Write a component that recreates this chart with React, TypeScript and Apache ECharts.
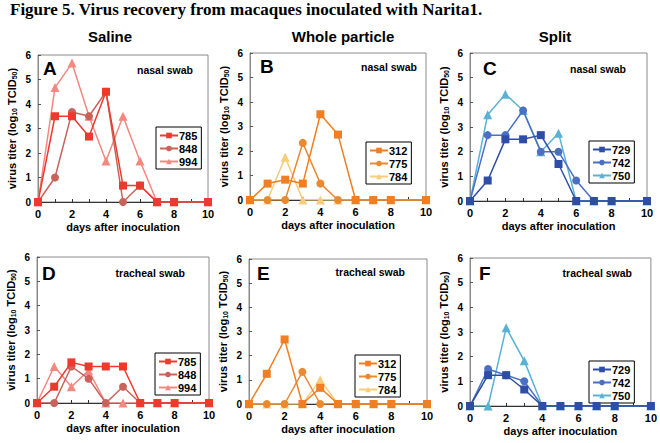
import React, { useEffect, useRef } from "react";
import * as echarts from "echarts";

const days = [0, 1, 2, 3, 4, 5, 6, 7, 8, 10];
const xTicks = [0, 2, 4, 6, 8, 10];
const yTicks = [0, 1, 2, 3, 4, 5, 6];

const salineIds = ["785", "848", "994"];
const wholeIds = ["312", "775", "784"];
const splitIds = ["729", "742", "750"];

// nasal swab
const nasalSaline785 = [0, 3.5, 3.5, 2.67, 4.5, 0.67, 0.67, 0, 0, 0];
const nasalSaline848 = [0, 1.0, 3.67, 3.5, 4.5, 0, 0.67, 0, 0, 0];
const nasalSaline994 = [0, 4.67, 5.67, 3.5, 1.67, 3.5, 1.67, 0, 0, 0];
const nasalWhole312 = [0, 0.67, 0.83, 0.67, 3.5, 2.67, 0, 0, 0, 0];
const nasalWhole775 = [0, 0, 0, 2.33, 0.67, 0, 0, 0, 0, 0];
const nasalWhole784 = [0, 0, 1.75, 0, 0, 0, 0, 0, 0, 0];
const nasalSplit729 = [0, 0.83, 2.5, 2.5, 2.67, 1.5, 0, 0, 0, 0];
const nasalSplit742 = [0, 2.67, 2.67, 3.67, 2.0, 2.0, 0.83, 0, 0, 0];
const nasalSplit750 = [0, 3.5, 4.33, 3.67, 2.0, 2.75, 0, 0, 0, 0];
// tracheal swab
const trachSaline785 = [0, 0.67, 1.67, 1.5, 1.5, 1.5, 0, 0, 0, 0];
const trachSaline848 = [0, 0, 1.5, 1.0, 0, 0.67, 0, 0, 0, 0];
const trachSaline994 = [0, 1.5, 0.67, 1.33, 0, 0, 0, 0, 0, 0];
const trachWhole312 = [0, 1.25, 2.67, 0, 0.67, 0, 0, 0, 0, 0];
const trachWhole775 = [0, 0, 0, 1.33, 0, 0, 0, 0, 0, 0];
const trachWhole784 = [0, 0, 0, 0, 1.0, 0, 0, 0, 0, 0];
const trachSplit729 = [0, 1.25, 1.25, 0.67, 0, 0, 0, 0, 0, 0];
const trachSplit742 = [0, 1.5, 1.25, 1.0, 0, 0, 0, 0, 0, 0];
const trachSplit750 = [0, 0, 3.17, 1.83, 0, 0, 0, 0, 0, 0];

const FONT = "Liberation Sans";
const symbols = ["rect", "circle", "triangle"];
const symbolSizes = [8, 8, 9];
const salineColors = ["#ee3a2e", "#c8625b", "#f4877f"];
const wholeColors = ["#f07e22", "#ea8a30", "#f8cc7a"];
const splitColors = ["#2e4ea6", "#4a70c2", "#5ab2d2"];

type Panel = {
  letter: string;
  swab: string;
  grid: { left: number; top: number; width: number; height: number };
  ids: string[];
  colors: string[];
  values: number[][];
  legend: { left: number; top: number };
  letterPos: [number, number];
  swabPos: [number, number];
};

const panels: Panel[] = [
  {
    letter: "A", swab: "nasal swab",
    grid: { left: 38, top: 55, width: 170, height: 147 },
    ids: salineIds, colors: salineColors,
    values: [nasalSaline785, nasalSaline848, nasalSaline994],
    legend: { left: 156, top: 127 }, letterPos: [43, 68], swabPos: [193, 70],
  },
  {
    letter: "B", swab: "nasal swab",
    grid: { left: 250, top: 53, width: 176, height: 147 },
    ids: wholeIds, colors: wholeColors,
    values: [nasalWhole312, nasalWhole775, nasalWhole784],
    legend: { left: 366, top: 142 }, letterPos: [260, 66], swabPos: [417, 67],
  },
  {
    letter: "C", swab: "nasal swab",
    grid: { left: 470, top: 53, width: 177, height: 148 },
    ids: splitIds, colors: splitColors,
    values: [nasalSplit729, nasalSplit742, nasalSplit750],
    legend: { left: 589, top: 141 }, letterPos: [483, 68], swabPos: [626, 69],
  },
  {
    letter: "D", swab: "tracheal swab",
    grid: { left: 37, top: 257, width: 172, height: 146 },
    ids: salineIds, colors: salineColors,
    values: [trachSaline785, trachSaline848, trachSaline994],
    legend: { left: 155, top: 353 }, letterPos: [42, 273], swabPos: [185, 273],
  },
  {
    letter: "E", swab: "tracheal swab",
    grid: { left: 249, top: 259, width: 178, height: 145 },
    ids: wholeIds, colors: wholeColors,
    values: [trachWhole312, trachWhole775, trachWhole784],
    legend: { left: 355, top: 355 }, letterPos: [257, 273], swabPos: [405, 272],
  },
  {
    letter: "F", swab: "tracheal swab",
    grid: { left: 470, top: 258, width: 181, height: 148 },
    ids: splitIds, colors: splitColors,
    values: [trachSplit729, trachSplit742, trachSplit750],
    legend: { left: 589, top: 361 }, letterPos: [479, 273], swabPos: [632, 273],
  },
];

const headers = [
  { text: "Saline", x: 110 },
  { text: "Whole particle", x: 343 },
  { text: "Split", x: 555 },
];

export default function App() {
  const ref = useRef<HTMLDivElement>(null);
  useEffect(() => {
    if (!ref.current) return;
    const chart = echarts.init(ref.current, undefined, { renderer: "svg" });

    const grid: any[] = [];
    const xAxis: any[] = [];
    const yAxis: any[] = [];
    const series: any[] = [];
    const legend: any[] = [];
    const graphic: any[] = [];

    graphic.push({
      type: "text", left: 10, top: 1,
      style: { text: "Figure 5. Virus recovery from macaques inoculated with Narita1.", font: 'bold 17px "Liberation Serif"', fill: "#000" },
    });
    headers.forEach((h) => {
      graphic.push({
        type: "text", x: h.x, y: 36,
        style: { text: h.text, font: `bold 15px "${FONT}"`, fill: "#000", align: "center", verticalAlign: "middle" },
      });
    });

    panels.forEach((p, i) => {
      grid.push({ ...p.grid, show: true, borderColor: "#8a8a8a", borderWidth: 1, backgroundColor: "transparent" });
      xAxis.push({
        type: "value", gridIndex: i, min: 0, max: 10, interval: 2,
        name: "days after inoculation", nameLocation: "middle", nameGap: 19,
        nameTextStyle: { fontFamily: FONT, fontWeight: "bold", fontSize: 11, color: "#000" },
        axisLine: { show: true, lineStyle: { color: "#333", width: 1 } },
        axisTick: { show: true, inside: true, length: 3, lineStyle: { color: "#333" } },
        minorTick: { show: true, splitNumber: 2, length: 3, lineStyle: { color: "#333" } },
        splitLine: { show: false },
        axisLabel: { fontFamily: FONT, fontWeight: "bold", fontSize: 11, color: "#000", margin: 6 },
      });
      yAxis.push({
        type: "value", gridIndex: i, min: 0, max: 6, interval: 1,
        name: "virus titer (log{s|10} TCID{s|50})", nameLocation: "middle", nameGap: 21, nameRotate: 90,
        nameTextStyle: {
          fontFamily: FONT, fontWeight: "bold", fontSize: 11, color: "#000",
          rich: { s: { fontFamily: FONT, fontWeight: "bold", fontSize: 7, color: "#000", lineHeight: 8, padding: [6, 0, 0, 0] } },
        },
        axisLine: { show: true, lineStyle: { color: "#8a8a8a", width: 1 } },
        axisTick: { show: true, inside: true, length: 3, lineStyle: { color: "#555" } },
        splitLine: { show: false },
        axisLabel: { fontFamily: FONT, fontWeight: "bold", fontSize: 10, color: "#000", margin: 7 },
      });
      p.ids.forEach((id, k) => {
        series.push({
          type: "line", name: id, xAxisIndex: i, yAxisIndex: i,
          data: days.map((d, j) => [d, p.values[k][j]]),
          symbol: symbols[k], symbolSize: symbolSizes[k],
          z: 5 - k,
          lineStyle: { color: p.colors[k], width: 1.5 },
          itemStyle: { color: p.colors[k], borderWidth: 0 },
          emphasis: { disabled: true },
        });
      });
      legend.push({
        data: p.ids, left: p.legend.left, top: p.legend.top, orient: "vertical",
        backgroundColor: "#fff", borderColor: "#000", borderWidth: 1, borderRadius: 0,
        padding: [3, 4, 2, 3], itemGap: 2, itemWidth: 18, itemHeight: 7,
        textStyle: { fontFamily: FONT, fontWeight: "bold", fontSize: 11, color: "#000", padding: [0, 0, 0, -4] },
        selectedMode: false,
      });
      graphic.push({
        type: "text", x: p.letterPos[0], y: p.letterPos[1],
        style: { text: p.letter, font: `bold 19px "${FONT}"`, fill: "#000", verticalAlign: "middle" },
        z: 100,
      });
      graphic.push({
        type: "text", x: p.swabPos[0], y: p.swabPos[1],
        style: { text: p.swab, font: `bold 10.5px "${FONT}"`, fill: "#000", align: "right", verticalAlign: "middle" },
        z: 100,
      });
    });

    chart.setOption({
      animation: false,
      backgroundColor: "#fff",
      grid, xAxis, yAxis, series, legend, graphic,
    });
    return () => chart.dispose();
  }, []);
  return <div ref={ref} style={{ position: "fixed", left: 0, top: 0, width: 660, height: 443 }} />;
}
